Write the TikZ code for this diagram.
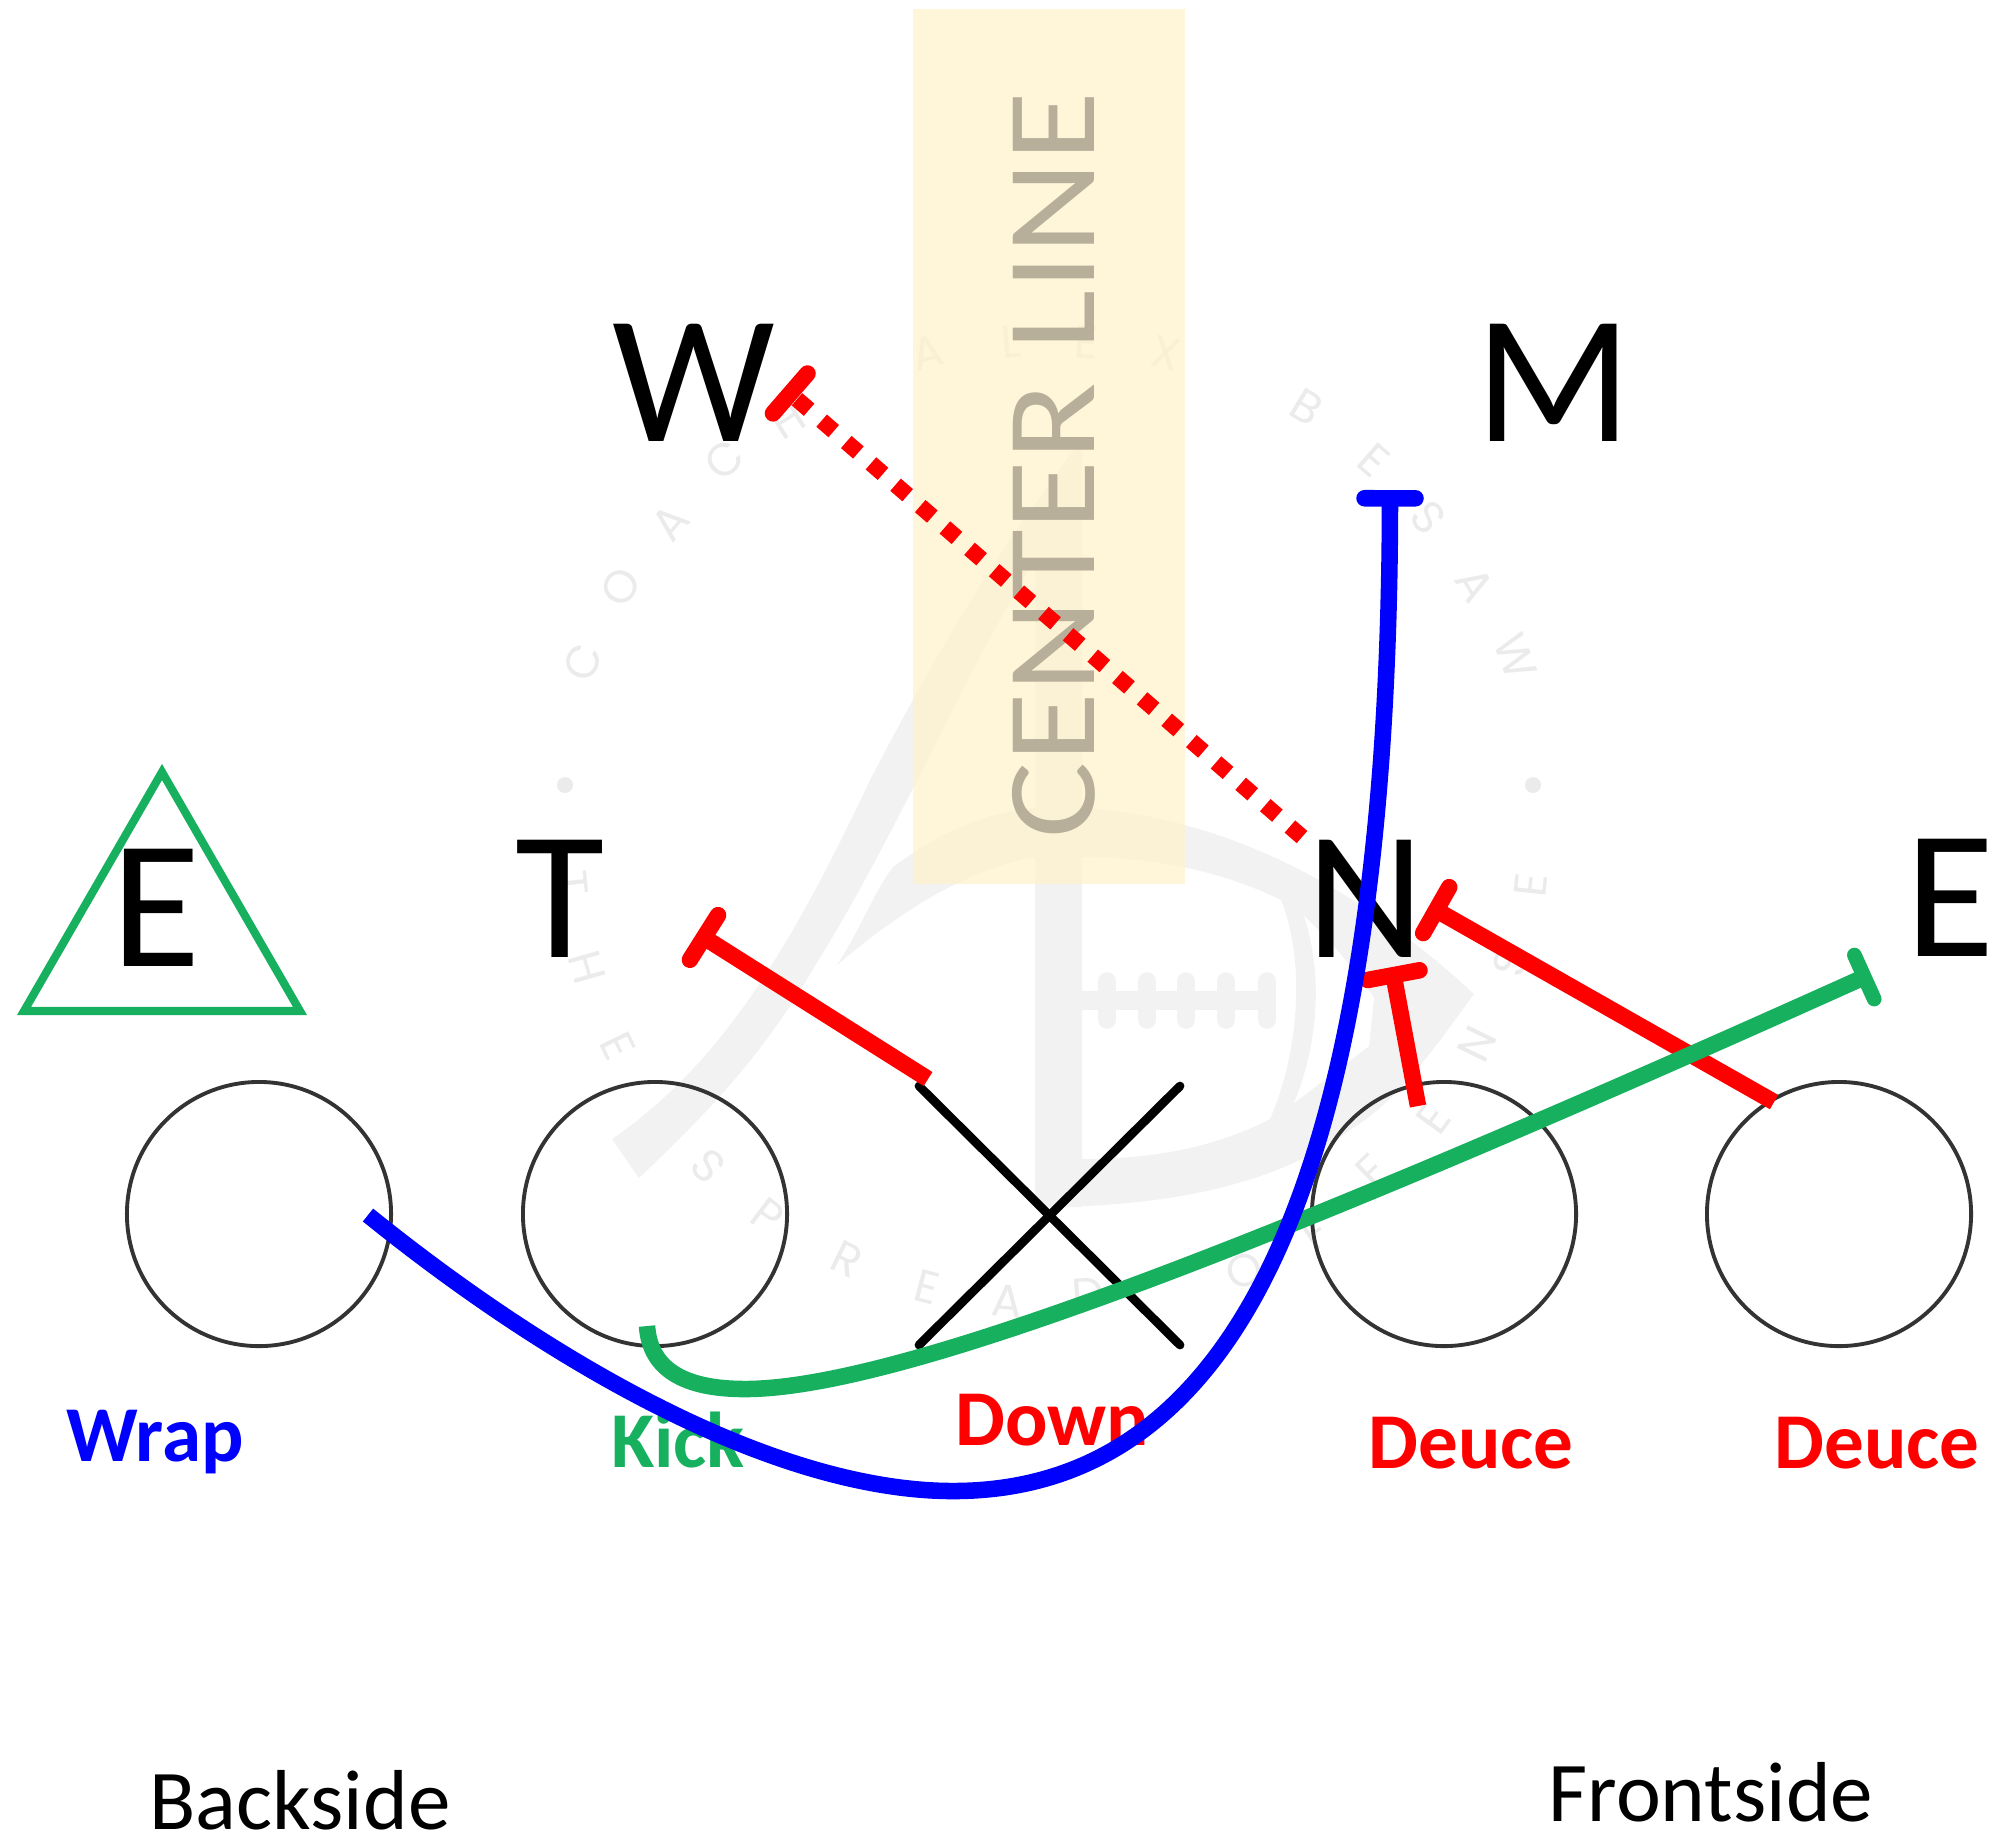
\documentclass[tikz,border=0pt]{standalone}
\usepackage{fontspec}
\setmainfont{Carlito}
\newfontfamily\markfont{Poppins}
\newfontfamily\linefont[FakeStretch=1.13]{Carlito}
\usetikzlibrary{arrows.meta}
\definecolor{kickgreen}{RGB}{22,176,94}
\definecolor{markgray}{RGB}{242,242,242}
\definecolor{ringgray}{RGB}{51,51,51}
\definecolor{linetext}{RGB}{184,175,155}
\definecolor{linefill}{RGB}{255,242,204}
\tikzset{
defender/.style={font=\fontsize{52}{56}\selectfont,anchor=base,inner sep=0pt},
calltext/.style={font=\fontsize{22.5}{26}\selectfont\bfseries,anchor=base,inner sep=0pt},
sidetext/.style={font=\fontsize{24.2}{28}\selectfont,anchor=base,inner sep=0pt},
lineman/.style={draw=ringgray,circle,line width=1.1pt,minimum size=2.64cm,inner sep=0pt},
markletter/.style={font=\markfont\fontsize{13}{15}\selectfont,text=markgray!97!black,inner sep=0pt},
block/.style={line width=4.7pt,-{Bar[width=15pt,line width=4.7pt,round]}},
route/.style={line width=4.7pt},
}
\begin{document}
\begin{tikzpicture}[x=0.01cm,y=-0.01cm]
\useasboundingbox(0,0)rectangle(1998,1838);
% logo
\fill[markgray](612,1139) .. controls (720,1065) and (790,950) .. (870,780) .. controls (930,665) and (990,560) .. (1082,440)--(1082,1207)--(1035,1207)--(1035,560) .. controls (960,680) and (900,830) .. (813,969) .. controls (760,1060) and (700,1120) .. (639,1178)--cycle;
\fill[markgray,even odd rule](837,965) .. controls (860,930) and (875,890) .. (893,867) .. controls (950,825) and (1000,807) .. (1060,807) .. controls (1200,810) and (1340,870) .. (1474,994) .. controls (1440,1040) and (1400,1100) .. (1350,1130) .. controls (1270,1190) and (1150,1207) .. (1040,1207)--(1040,1159)--(1081,1159) .. controls (1160,1159) and (1220,1145) .. (1270,1119) .. controls (1300,1050) and (1305,960) .. (1281,900) .. controls (1220,870) and (1150,857) .. (1081,857)--(1035,857) .. controls (960,870) and (890,920) .. (837,965)--cycle;
\fill[white](1304,916) .. controls (1330,940) and (1355,970) .. (1374,998)--(1369,1046)--(1294,1103) .. controls (1320,1040) and (1322,970) .. (1304,916)--cycle;
\fill[markgray](1081,991)rectangle(1272,1010);
\foreach \lacex in {1107,1147,1186,1226,1267}
\draw[markgray,line width=5pt,line cap=round](\lacex,981)--(\lacex,1020);
\foreach \letter/\lx/\ly/\lrot in {C/583/662/69,O/621/587/60,A/670/522/50,C/724/460/41,H/787/420/32,A/928/352/14,L/1011/342/5,E/1086/342/-4,X/1166/353/-13,B/1307/407/-31,E/1374/460/-41,S/1428/517/-50,A/1475/585/-59,W/1515/657/-69,T/572/883/-84,H/587/967/-74,E/618/1046/-64,S/708/1166/-46,P/768/1216/-37,R/847/1259/-26,E/927/1287/-15,A/1007/1301/-5,D/1088/1294/5,O/1244/1271/24,F/1315/1233/34,F/1372/1171/44,E/1433/1119/54,N/1477/1044/64,S/1511/962/75,E/1531/885/84}
\node[markletter,rotate=\lrot]at(\lx,\ly){\letter};
\fill[markgray!97!black](565,785)circle(8);
\fill[markgray!97!black](1533,785)circle(8);
%
\fill[linefill,opacity=0.75](913,9)rectangle(1185,884);
\node[rotate=90,anchor=base,inner sep=0pt,text=linetext,font=\linefont\fontsize{36}{40}\selectfont](centerline)at(1094,465){CENTER LINE};
%
\node[lineman](backtackle)at(259,1214){};
\node[lineman](backguard)at(655,1214){};
\node[lineman](frontguard)at(1444,1214){};
\node[lineman](fronttackle)at(1839,1214){};
%
\coordinate(snapA)at(919,1086);\coordinate(snapB)at(1180,1345);
\coordinate(snapC)at(919,1345);\coordinate(snapD)at(1180,1086);
\draw[line width=2.5pt,line cap=round](snapA)--(snapB);
\draw[line width=2.5pt,line cap=round](snapC)--(snapD);
%
\node[defender](endW)at(694,441){W};
\node[defender](endM)at(1554,441){M};
\node[defender](endE)at(156,966){E};
\node[defender](endT)at(560,957){T};
\node[defender](endN)at(1365,957){N};
\node[defender](endF)at(1950,956){E};
\draw[kickgreen,line width=2.3pt,miter limit=20](162,772)--(300,1011)--(24,1011)--cycle;
%
\node[calltext,text=blue](wrap)at(155,1461){Wrap};
\node[calltext,text=kickgreen](kick)at(678,1467){Kick};
\node[calltext,text=red](down)at(1052,1445){Down};
\node[calltext,text=red](deuceA)at(1471,1468){Deuce};
\node[calltext,text=red](deuceB)at(1877,1468){Deuce};
\node[sidetext](backside)at(300,1829){Backside};
\node[sidetext](frontside)at(1711,1821){Frontside};
%
\coordinate(downstart)at(928,1079);\coordinate(downend)at(697,933);
\coordinate(deuceAstart)at(1418,1106);\coordinate(deuceAend)at(1392,967);
\coordinate(deuceBstart)at(1774,1102);\coordinate(deuceBend)at(1429,906);
\coordinate(scrapstart)at(1302,837);\coordinate(scrapend)at(784,388);
\draw[red,block](downstart)--(downend);
\draw[red,block](deuceAstart)--(deuceAend);
\draw[red,block](deuceBstart)--(deuceBend);
\draw[red,line width=4.6pt,dash pattern=on 16*0.2845pt off 16.6*0.2845pt,-{Bar[width=15pt,line width=4.7pt,round]}](scrapstart)--(scrapend);
%
\coordinate(kickstart)at(647,1326);\coordinate(kickend)at(1871,974);
\draw[kickgreen,route,-{Bar[width=13.7pt,line width=4.2pt,round]}](kickstart) .. controls (650,1370) and (685,1389) .. (745,1389) .. controls (900,1389) and (1280,1240) .. (kickend);
\coordinate(wrapstart)at(368,1215);\coordinate(wrapend)at(1390,490);
\draw[blue,route,-{Bar[width=14.5pt,line width=4.7pt,round]}](wrapstart) .. controls (560,1370) and (780,1491) .. (953,1491) .. controls (1250,1491) and (1389,1150) .. (wrapend);
\end{tikzpicture}
\end{document}
